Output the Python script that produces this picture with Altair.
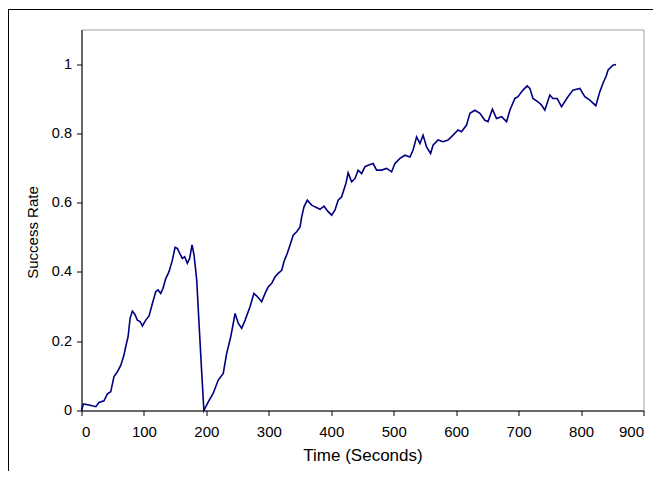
import altair as alt
import pandas as pd

# Traced series: time (seconds) and success rate
time_s = [0, 3, 12, 23, 28, 36, 41.5, 46.8, 52, 57.5, 63, 68, 70.8, 74.6, 77.8, 81.5,
          85.3, 89.5, 93.8, 97.5, 102.9, 108.2, 113.5, 118.9, 122.6, 126.9, 130.6, 134.9,
          140.2, 145.5, 149.8, 153.5, 157.3, 161.5, 165.2, 169.5, 173.2, 177, 180.2, 184.5,
          188.2, 192, 196, 203, 211, 219, 227, 232.5, 239, 246, 251, 256.5, 262, 270, 276,
          281.6, 288.5, 294, 299, 304.6, 310, 315, 320.6, 324.3, 329.6, 334, 339, 344.6, 350,
          352.6, 356.3, 361.6, 368.6, 373.9, 381.9, 388.3, 395, 400.6, 406, 411, 416.6,
          423.5, 427, 432.6, 438, 443, 448.6, 454, 459, 467, 472.6, 480.6, 488.6, 496.6,
          502, 510, 518, 526, 531, 536.6, 542, 547, 552.6, 559, 563, 571, 579, 587, 595,
          603, 608.6, 616.6, 622, 630, 638, 646, 651, 658, 664.6, 672.7, 680.7, 686, 694,
          699, 707, 713.7, 718, 723, 731, 736.7, 742, 750, 755, 761.7, 768.7, 779, 787,
          798, 806, 814, 823.6, 830, 835, 840.7, 843.3, 851, 856]
success = [0.0, 0.019, 0.016, 0.011, 0.023, 0.028, 0.048, 0.054, 0.098, 0.112, 0.131, 0.16,
           0.184, 0.213, 0.266, 0.287, 0.278, 0.261, 0.257, 0.244, 0.261, 0.273, 0.309,
           0.343, 0.348, 0.338, 0.353, 0.381, 0.401, 0.434, 0.471, 0.468, 0.454, 0.439,
           0.444, 0.425, 0.439, 0.478, 0.449, 0.377, 0.252, 0.126, 0.0, 0.025, 0.05, 0.088,
           0.107, 0.165, 0.213, 0.28, 0.252, 0.237, 0.261, 0.3, 0.338, 0.329, 0.314, 0.338,
           0.357, 0.367, 0.386, 0.396, 0.405, 0.43, 0.454, 0.478, 0.506, 0.516, 0.53, 0.559,
           0.588, 0.607, 0.593, 0.588, 0.581, 0.59, 0.574, 0.564, 0.579, 0.607, 0.617,
           0.656, 0.686, 0.66, 0.67, 0.694, 0.684, 0.704, 0.708, 0.713, 0.694, 0.694, 0.699,
           0.689, 0.713, 0.728, 0.737, 0.732, 0.752, 0.79, 0.771, 0.795, 0.761, 0.742,
           0.766, 0.781, 0.776, 0.781, 0.795, 0.81, 0.805, 0.824, 0.858, 0.867, 0.858,
           0.838, 0.834, 0.87, 0.843, 0.848, 0.834, 0.867, 0.901, 0.906, 0.925, 0.937, 0.93,
           0.901, 0.891, 0.882, 0.867, 0.911, 0.901, 0.901, 0.877, 0.906, 0.925, 0.93,
           0.906, 0.896, 0.88, 0.92, 0.944, 0.968, 0.983, 0.997, 0.999]

x_ticks = [0, 100, 200, 300, 400, 500, 600, 700, 800, 900]
y_ticks = [0, 0.2, 0.4, 0.6, 0.8, 1.0]

df = pd.DataFrame({"t": time_s, "rate": success})

PW, PH = 562, 381
PAD_L, PAD_T = 73.5, 21.5
TOTAL_W, TOTAL_H = 645, 463

line = alt.Chart(df).mark_line(color="#000080", strokeWidth=1.6).encode(
    x=alt.X("t:Q", title="Time (Seconds)",
            scale=alt.Scale(domain=[0, 900], nice=False),
            axis=alt.Axis(values=x_ticks, format="d", grid=False,
                          labelFontSize=15, titleFontSize=17,
                          labelPadding=9, titlePadding=8)),
    y=alt.Y("rate:Q", title="Success Rate",
            scale=alt.Scale(domain=[0, 1.1], nice=False),
            axis=alt.Axis(values=y_ticks, format=".1~f", grid=False,
                          labelFontSize=14.5, titleFontSize=15,
                          labelPadding=5, titlePadding=11,
                          titleY=PH / 2 + 12)),
)

frame_top = alt.Chart(df).mark_rule(color="black", strokeWidth=1).encode(
    x=alt.value(-PAD_L + 0.5), x2=alt.value(TOTAL_W - PAD_L), y=alt.value(-PAD_T + 1.5)
)
frame_left = alt.Chart(df).mark_rule(color="black", strokeWidth=1).encode(
    x=alt.value(-PAD_L + 0.5), y=alt.value(-PAD_T + 1.5), y2=alt.value(TOTAL_H - PAD_T)
)

chart = alt.layer(frame_top, frame_left, line).properties(
    width=PW, height=PH,
    autosize=alt.AutoSizeParams(type="none"),
    padding={"left": PAD_L, "top": PAD_T, "right": TOTAL_W - PAD_L - PW,
             "bottom": TOTAL_H - PAD_T - PH},
    background="white",
).configure_view(
    stroke="#a0a0a0", strokeWidth=1
).configure_axis(
    domainColor="black", tickColor="black", tickSize=5,
    labelFont="Liberation Sans", titleFont="Liberation Sans",
    labelColor="black", titleColor="black",
    titleFontWeight="normal",
)

chart.save("out.html", embed_options={"renderer": "svg", "actions": False})
